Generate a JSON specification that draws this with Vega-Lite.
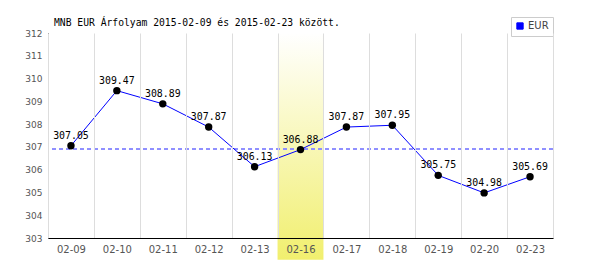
{
  "$schema": "https://vega.github.io/schema/vega-lite/v6.json",
  "width": 505,
  "height": 205,
  "autosize": {"type": "none"},
  "padding": {"left": 48, "top": 33, "right": 47, "bottom": 32},
  "background": "white",
  "title": {
    "text": "MNB EUR Árfolyam 2015-02-09 és 2015-02-23 között.",
    "anchor": "start",
    "frame": "group",
    "font": "DejaVu Sans Mono",
    "fontSize": 9.7,
    "fontWeight": "normal",
    "color": "#000000",
    "baseline": "alphabetic",
    "offset": -19,
    "dx": 6
  },
  "config": {
    "view": {"stroke": null},
    "axis": {
      "gridColor": "#dddddd",
      "gridWidth": 1,
      "domainColor": "#000000",
      "domainWidth": 1,
      "ticks": false,
      "labelColor": "#555555",
      "labelFont": "DejaVu Sans",
      "labelOverlap": false,
      "title": null
    },
    "axisY": {
      "labelFontSize": 9,
      "labelPadding": 6,
      "zindex": 0
    }
  },
  "data": {
    "values": [
      {"d": "02-09", "v": 307.05, "s": "EUR"},
      {"d": "02-10", "v": 309.47, "s": "EUR"},
      {"d": "02-11", "v": 308.89, "s": "EUR"},
      {"d": "02-12", "v": 307.87, "s": "EUR"},
      {"d": "02-13", "v": 306.13, "s": "EUR"},
      {"d": "02-16", "v": 306.88, "s": "EUR"},
      {"d": "02-17", "v": 307.87, "s": "EUR"},
      {"d": "02-18", "v": 307.95, "s": "EUR"},
      {"d": "02-19", "v": 305.75, "s": "EUR"},
      {"d": "02-20", "v": 304.98, "s": "EUR"},
      {"d": "02-23", "v": 305.69, "s": "EUR"}
    ]
  },
  "encoding": {
    "x": {
      "field": "d",
      "type": "nominal",
      "sort": null,
      "scale": {
        "domain": ["02-09", "02-10", "02-11", "02-12", "02-13", "02-16", "02-17", "02-18", "02-19", "02-20", "02-23"],
        "paddingInner": 0,
        "paddingOuter": 0
      },
      "axis": {
        "labelAngle": 0,
        "grid": true,
        "tickBand": "extent",
        "labelFontSize": 10,
        "labelPadding": 6,
        "zindex": 1
      }
    }
  },
  "layer": [
    {
      "data": {"values": [{"d": "02-16"}]},
      "mark": {
        "type": "rect",
        "clip": false,
        "fill": {
          "gradient": "linear",
          "x1": 0, "y1": 0, "x2": 0, "y2": 1,
          "stops": [
            {"offset": 0, "color": "#ffffff"},
            {"offset": 1, "color": "#f1ef6e"}
          ]
        }
      },
      "encoding": {
        "y": {
          "datum": 312,
          "type": "quantitative",
          "scale": {"domain": [303, 312], "nice": false, "zero": false},
          "axis": {"values": [303, 304, 305, 306, 307, 308, 309, 310, 311, 312]}
        },
        "y2": {"datum": 302.04}
      }
    },
    {
      "mark": {"type": "rule", "stroke": "#8f8fff", "strokeDash": [4, 3], "strokeWidth": 1},
      "encoding": {
        "x": null,
        "y": {
          "datum": 306.9,
          "type": "quantitative",
          "axis": {"values": [303, 304, 305, 306, 307, 308, 309, 310, 311, 312]}
        }
      }
    },
    {
      "mark": {"type": "line", "strokeWidth": 1},
      "encoding": {
        "y": {
          "field": "v",
          "type": "quantitative",
          "axis": {"values": [303, 304, 305, 306, 307, 308, 309, 310, 311, 312]}
        },
        "color": {
          "field": "s",
          "type": "nominal",
          "scale": {"domain": ["EUR"], "range": ["#0000ff"]},
          "legend": {
            "orient": "none",
            "legendX": 463,
            "legendY": -16,
            "title": null,
            "symbolType": "square",
            "symbolSize": 40,
            "symbolStrokeColor": "#444444",
            "symbolStrokeWidth": 1,
            "symbolFillColor": "#0000ff",
            "labelFont": "DejaVu Sans",
            "labelFontSize": 10,
            "labelColor": "#444444",
            "labelOffset": 3,
            "strokeColor": "#cccccc",
            "fillColor": "#ffffff",
            "padding": 4
          }
        }
      }
    },
    {
      "mark": {"type": "circle", "size": 55, "color": "#000000", "opacity": 1},
      "encoding": {
        "y": {
          "field": "v",
          "type": "quantitative",
          "axis": {"values": [303, 304, 305, 306, 307, 308, 309, 310, 311, 312]}
        }
      }
    },
    {
      "mark": {
        "type": "text",
        "font": "DejaVu Sans Mono",
        "fontSize": 9.9,
        "color": "#000000",
        "baseline": "alphabetic",
        "dy": -7
      },
      "encoding": {
        "y": {
          "field": "v",
          "type": "quantitative",
          "axis": {"values": [303, 304, 305, 306, 307, 308, 309, 310, 311, 312]}
        },
        "text": {"field": "v", "type": "quantitative", "format": ".2f"}
      }
    }
  ]
}
